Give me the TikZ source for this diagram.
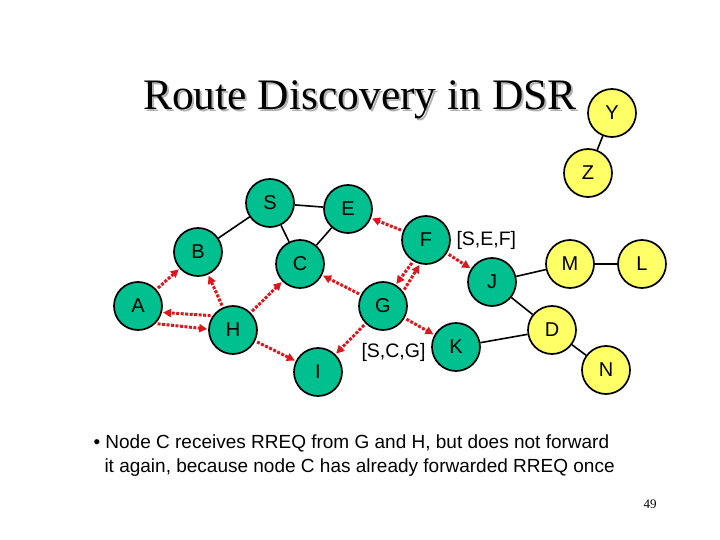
\documentclass[tikz,border=0pt]{standalone}
\usepackage{fontspec}
\setmainfont{Liberation Sans}
\newfontfamily\titlefont{Liberation Serif}
\usetikzlibrary{arrows.meta}
\definecolor{nodegreen}{RGB}{0,192,144}
\definecolor{nodeyellow}{RGB}{255,255,102}
\definecolor{rreqred}{RGB}{222,22,30}

\begin{document}
\begin{tikzpicture}[x=1bp, y=-1bp,
  host/.style={circle, draw=black, line width=1.7bp, minimum size=48bp,
    inner sep=0pt, font=\fontsize{20bp}{22bp}\selectfont},
  flooded/.style={host, fill=nodegreen},
  idle/.style={host, fill=nodeyellow},
  link/.style={line width=1.6bp},
  rreq/.style={-{Triangle[length=8bp, width=8bp]}, draw=rreqred,
    line width=3bp, dash pattern=on 3bp off 1.5bp,
    shorten >=1bp, shorten <=2bp},
  route/.style={font=\fontsize{19.5bp}{22bp}\selectfont}]
\fill[white] (0,0) rectangle (720,540);
\useasboundingbox (0,0) rectangle (720,540);

% Title with shadow
\node[anchor=base, text=black!30, font=\titlefont\fontsize{43.5bp}{50bp}\selectfont]
  (shadow) at (362,112) {Route Discovery in DSR};
\node[anchor=base, font=\titlefont\fontsize{43.5bp}{50bp}\selectfont]
  (title) at (360,110) {Route Discovery in DSR};

% Nodes that have received RREQ
\node[flooded] (S) at (270,203) {S};
\node[flooded] (E) at (348,209) {E};
\node[flooded] (F) at (426,240) {F};
\node[flooded] (B) at (198,252) {B};
\node[flooded] (C) at (300,264) {C};
\node[flooded] (G) at (383,306) {G};
\node[flooded] (A) at (138,306) {A};
\node[flooded] (H) at (233,330) {H};
\node[flooded] (I) at (318,372) {I};
\node[flooded] (K) at (456,347) {K};
\node[flooded] (J) at (492,282) {J};

% Nodes not reached yet
\node[idle] (M) at (570,264) {M};
\node[idle] (L) at (642,264) {L};
\node[idle] (D) at (552,330) {D};
\node[idle] (N) at (606,370) {N};
\node[idle] (Z) at (588,173) {Z};
\node[idle] (Y) at (612,113) {Y};

% Links
\draw[link] (S) -- (E);
\draw[link] (S) -- (B);
\draw[link] (S) -- (C);
\draw[link] (E) -- (C);
\draw[link] (Y) -- (Z);
\draw[link] (J) -- (M);
\draw[link] (M) -- (L);
\draw[link] (J) -- (D);
\draw[link] (K) -- (D);
\draw[link] (D) -- (N);

% RREQ transmissions
\draw[rreq] (F) -- (E);
\draw[rreq] (F) -- (J);
\draw[rreq] (G) -- (C);
\draw[rreq] (F.239) -- (G.59);
\draw[rreq] (G.36) -- (F.256);
\draw[rreq] (A) -- (B);
\draw[rreq] (H) -- (B);
\draw[rreq] (H) -- (C);
\draw[rreq] (H.145) -- (A.-15);
\draw[rreq] (A.-45) -- (H.178);
\draw[rreq] (H) -- (I);
\draw[rreq] (G) -- (I);
\draw[rreq] (G) -- (K);

% Route records
\node[route, anchor=west] (recF) at (453,240) {[S,E,F]};
\node[route, anchor=west] (recG) at (358,352) {[S,C,G]};

% Bullet text
\node[anchor=base west, font=\fontsize{19bp}{24bp}\selectfont] (line1) at (90,448)
  {\textbullet\ Node C receives RREQ from G and H, but does not forward};
\node[anchor=base west, font=\fontsize{19bp}{24bp}\selectfont] (line2) at (101,472)
  {it again, because node C has already forwarded RREQ once};

\node[anchor=base, font=\titlefont\fontsize{13bp}{15bp}\selectfont] (page) at (650,508) {49};
\end{tikzpicture}
\end{document}
